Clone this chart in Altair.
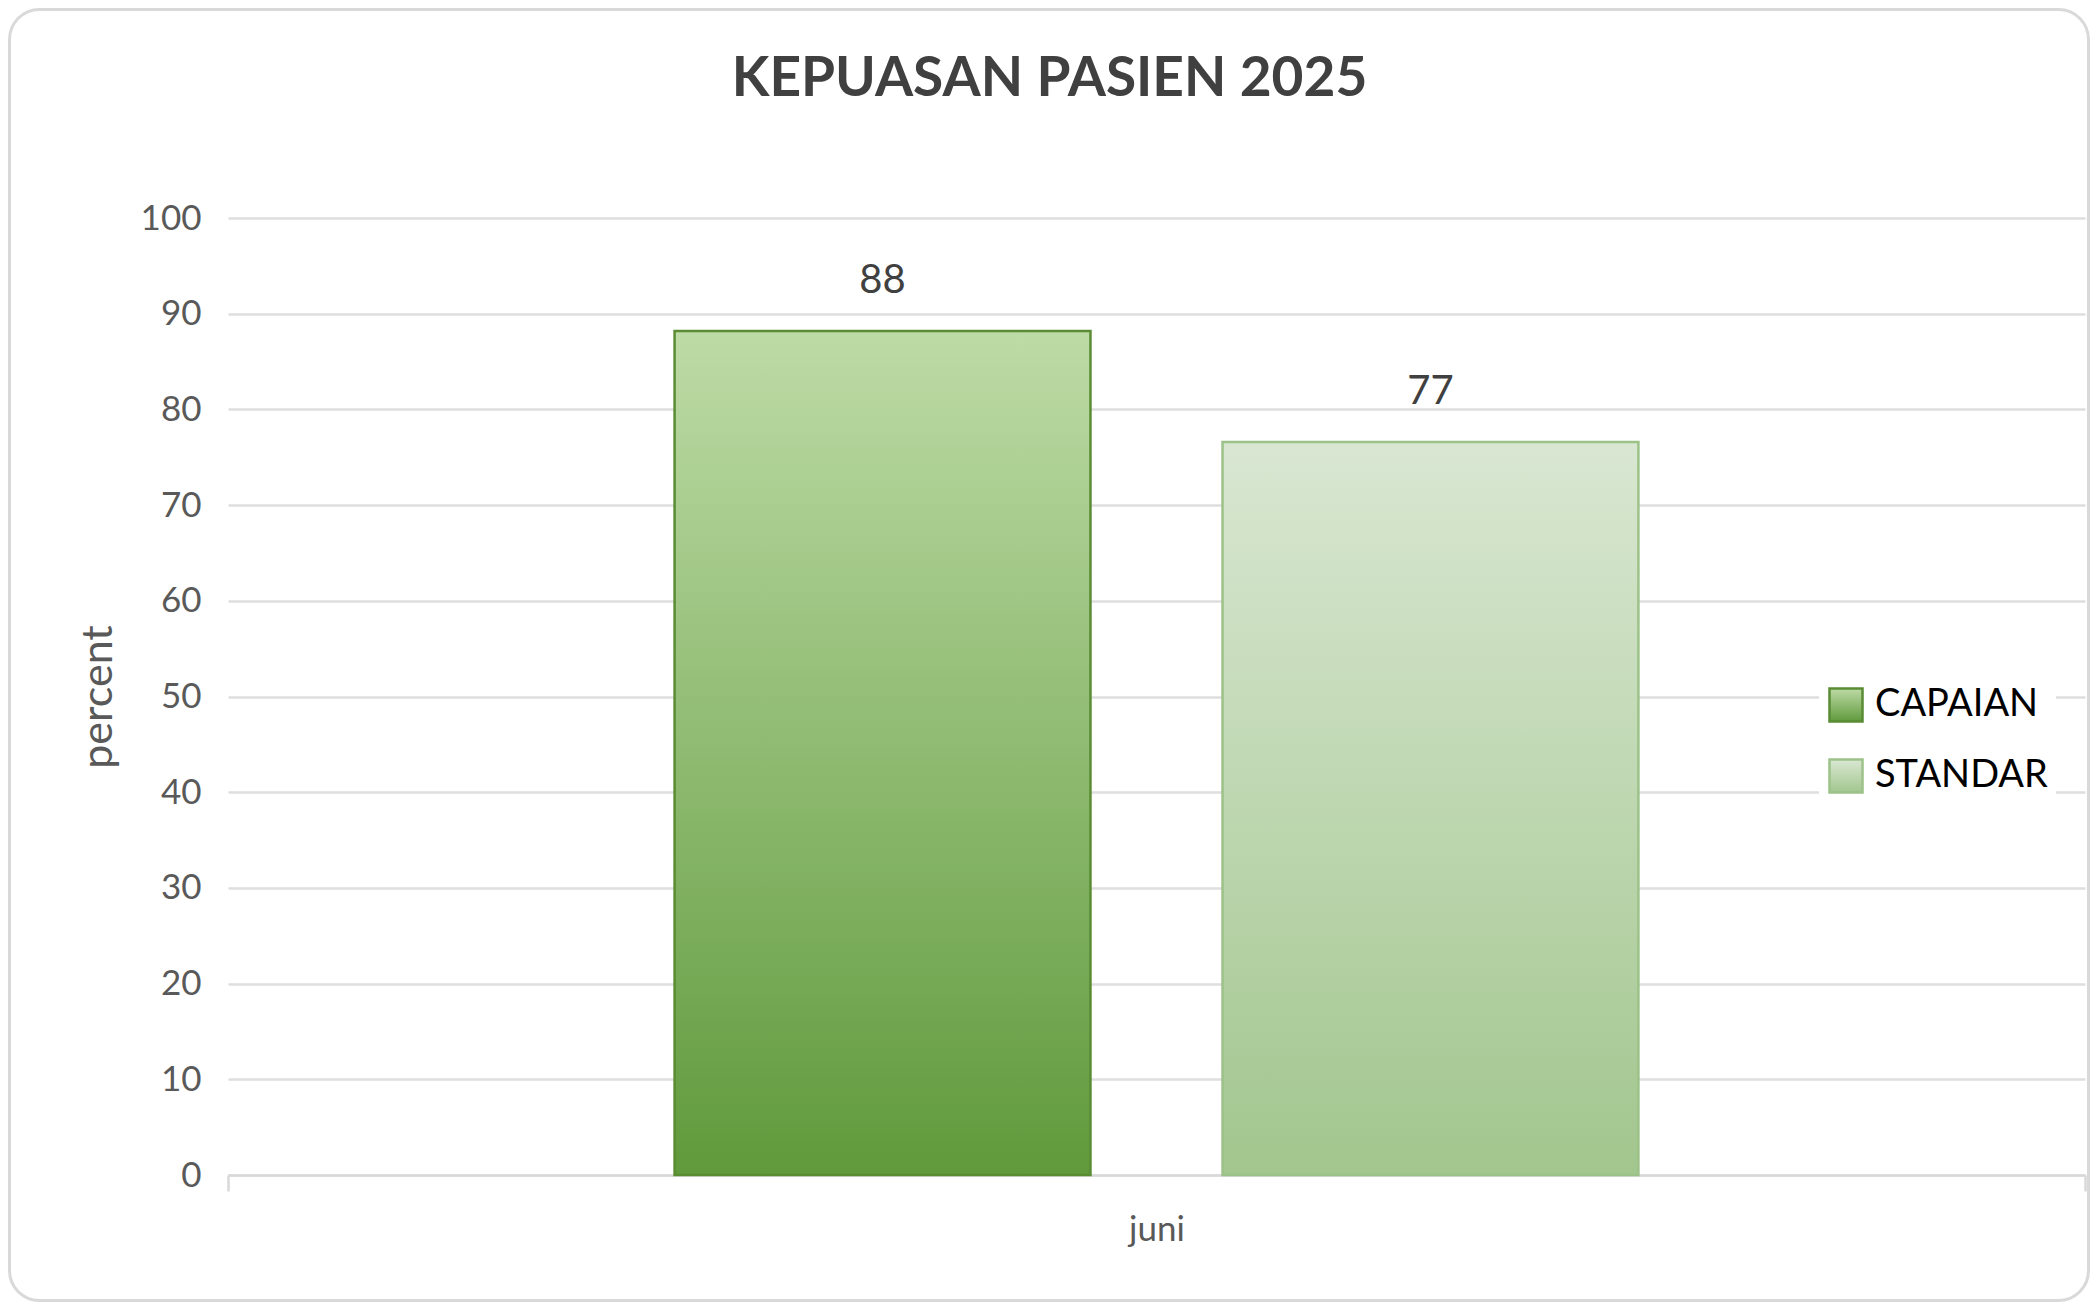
import altair as alt
import pandas as pd

# ---- data ----
months = ["juni"]
series = ["CAPAIAN", "STANDAR"]
values = [88.2, 76.6]
y_ticks = [0, 10, 20, 30, 40, 50, 60, 70, 80, 90, 100]

# ---- styles ----
top_colors = ["#bddba6", "#d9e7d2"]
bottom_colors = ["#609a3c", "#a2c68e"]
stroke_colors = ["#5a8c34", "#9cc289"]
FONT = "Lato"

df = pd.DataFrame({"bulan": [months[0]] * len(series), "seri": series, "nilai": values})


def grad_expr(top, bottom):
    return {
        "expr": "{gradient: 'linear', x1: 0, y1: 0, x2: 0, y2: 1, stops: ["
        f"{{offset: 0, color: '{top}'}}, {{offset: 1, color: '{bottom}'}}]}}"
    }


legend = alt.Legend(
    title=None,
    orient="none",
    legendX=1591,
    legendY=460,
    padding=8,
    fillColor="white",
    symbolType="square",
    symbolSize=1089,
    symbolStrokeWidth=2.5,
    labelFont=FONT,
    labelFontSize=38,
    labelColor="#000000",
    labelOffset=10,
    labelLimit=500,
    rowPadding=27,
)

base = alt.Chart(df).encode(
    x=alt.X(
        "bulan:N",
        title=None,
        scale=alt.Scale(paddingInner=0, paddingOuter=0),
        axis=alt.Axis(
            labelFont=FONT,
            labelFontSize=35,
            labelColor="#595959",
            labelPadding=21,
            labelAngle=0,
            tickSize=16,
            tickColor="#d9d9d9",
            tickWidth=2.5,
            tickBand="extent",
            domainColor="#d9d9d9",
            domainWidth=2.5,
            grid=False,
        ),
    ),
    xOffset=alt.XOffset(
        "seri:N", scale=alt.Scale(domain=series, paddingInner=0.241, paddingOuter=0.815)
    ),
)

bars = base.mark_bar(strokeWidth=2.5).encode(
    y=alt.Y(
        "nilai:Q",
        scale=alt.Scale(domain=[0, 100]),
        axis=alt.Axis(
            values=y_ticks,
            title="percent",
            titleFont=FONT,
            titleFontSize=43,
            titleFontWeight="normal",
            titleColor="#595959",
            titlePadding=20,
            labelFont=FONT,
            labelFontSize=35,
            labelColor="#595959",
            labelPadding=27,
            ticks=False,
            domain=False,
            gridColor="#dedede",
            gridWidth=2.5,
        ),
    ),
    color=alt.Color(
        "seri:N",
        scale=alt.Scale(
            domain=series,
            range=[grad_expr(t, b) for t, b in zip(top_colors, bottom_colors)],
        ),
        legend=legend,
    ),
    stroke=alt.Stroke("seri:N", scale=alt.Scale(domain=series, range=stroke_colors), legend=legend),
)

labels = base.mark_text(
    dy=-38, baseline="alphabetic", fontSize=40, font=FONT, color="#404040"
).encode(
    y=alt.Y("nilai:Q"),
    text=alt.Text("nilai:Q", format=".0f"),
)

frame = (
    alt.Chart(pd.DataFrame({"f": [0]}))
    .mark_rect(filled=False, stroke="#d9d9d9", strokeWidth=3, cornerRadius=30)
    .encode(
        x=alt.value(-218.5),
        x2=alt.value(1860.5),
        y=alt.value(-208.5),
        y2=alt.value(1082.5),
    )
)

chart = (
    alt.layer(frame, bars, labels)
    .properties(
        width=1857,
        height=957,
        autosize=alt.AutoSizeParams(type="none"),
        padding={"left": 220, "top": 210, "right": 5, "bottom": 127},
        background="white",
        title=alt.TitleParams(
            "KEPUASAN PASIEN 2025",
            font=FONT,
            fontSize=55,
            fontWeight="bold",
            color="#404040",
            anchor="middle",
            dx=-107,
            offset=-100,
        ),
    )
    .configure_view(strokeWidth=0)
)

chart.save("out.html", embed_options={"renderer": "svg", "actions": False})
